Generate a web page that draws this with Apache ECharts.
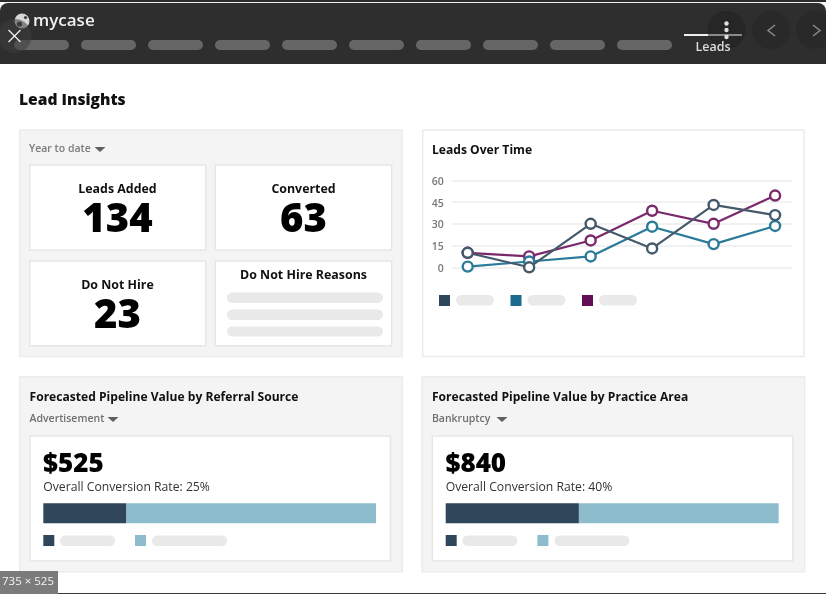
<!DOCTYPE html>
<html>
<head>
<meta charset="utf-8">
<title>Lead Insights</title>
<style>
  html, body { margin: 0; padding: 0; background: #fff; }
  #main { width: 826px; height: 594px; }
</style>
<script src="https://cdn.jsdelivr.net/npm/echarts@6/dist/echarts.min.js"></script>
</head>
<body>
<div id="main"></div>
<script>
// line chart data
var months = [0, 1, 2, 3, 4, 5];
var yTicks = [0, 15, 30, 45, 60];
var seriesA = [10, 0, 30, 13, 43, 36];
var seriesB = [0.5, 4, 7.5, 28, 16, 28.5];
var seriesC = [10, 7.5, 18.5, 39, 30, 49.5];

// stacked bars
var referralConverted = [25];
var referralRest = [75];
var practiceConverted = [40];
var practiceRest = [60];

// the number cards
var cardLabels = ['Leads Added', 'Converted', 'Do Not Hire'];
var cardValues = ['134', '63', '23'];

var FONT = '"Open Sans", "Noto Sans", sans-serif';
var DARK = '#2f465b', TEAL = '#1b6b8c', PURPLE = '#640f55', LIGHT = '#8dbdcc';

function rect(x, y, w, h, fill, stroke, r) {
  return {
    type: 'rect',
    shape: { x: x, y: y, width: w, height: h, r: r || 0 },
    style: { fill: fill, stroke: stroke || null, lineWidth: stroke ? 1.5 : 0 }
  };
}
function pill(x, y, w, h, fill) {
  return rect(x, y, w, h, fill || '#e9e9e9', null, h / 2);
}
function circle(cx, cy, r, fill) {
  return { type: 'circle', shape: { cx: cx, cy: cy, r: r }, style: { fill: fill } };
}
function label(x, y, str, size, weight, color, align) {
  return {
    type: 'text', x: x, y: y + 1.5,
    style: {
      text: str, fill: color || '#111', align: align || 'left', verticalAlign: 'middle',
      font: weight + ' ' + size + 'px ' + FONT
    }
  };
}
function caret(cx, cy) {
  return {
    type: 'polygon',
    shape: { points: [[cx - 5.5, cy - 2.5], [cx + 5.5, cy - 2.5], [cx, cy + 2.5]] },
    style: { fill: '#5f5f5f' }
  };
}
function chevron(points, color) {
  return {
    type: 'polyline',
    shape: { points: points },
    style: { stroke: color, lineWidth: 1.5, fill: null }
  };
}

var g = [];

// header
g.push(rect(0, 0, 826, 2, '#2b2b2b'));
g.push(rect(0, 2, 826, 1, '#f2f2f2'));
g.push(rect(0, 3, 826, 61, '#2e2e2e', null, [8, 8, 0, 0]));
g.push(circle(22, 21, 7.5, '#d6d6d6'));
g.push(circle(19.5, 24, 2.6, '#3a3a3a'));
g.push(circle(25.5, 17.5, 1.6, '#3a3a3a'));
g.push(label(33, 20, 'mycase', 17, 600, '#f0f0f0'));
[14, 81, 148, 215, 282, 349, 416, 483, 550, 617].forEach(function (x) {
  g.push(pill(x, 40, 55, 10, '#666666'));
});
g.push(circle(14.6, 36, 17, 'rgba(62,62,62,0.55)'));
g.push({ type: 'line', shape: { x1: 8.5, y1: 30, x2: 20.5, y2: 42 }, style: { stroke: '#f2f2f2', lineWidth: 1.2 } });
g.push({ type: 'line', shape: { x1: 20.5, y1: 30, x2: 8.5, y2: 42 }, style: { stroke: '#f2f2f2', lineWidth: 1.2 } });
g.push(circle(726.5, 30, 19, '#262626'));
g.push(circle(771, 30, 19, '#292929'));
g.push(circle(815, 30, 19, '#292929'));
g.push(rect(684, 34, 58, 2, '#8a8a8a'));
g.push(rect(684, 34, 24, 2, '#eeeeee'));
g.push(label(713, 45.5, 'Leads', 12.5, 600, '#dcdcdc', 'center'));
g.push(circle(726.5, 23.5, 2.2, '#e0e0e0'));
g.push(circle(726.5, 30, 2.2, '#e0e0e0'));
g.push(circle(726.5, 37, 2.2, '#e0e0e0'));
g.push(chevron([[775, 25], [768, 30.5], [775, 36]], '#8a8a8a'));
g.push(chevron([[813, 25], [820, 30.5], [813, 36]], '#8a8a8a'));

g.push(label(19, 99, 'Lead Insights', 15.6, 800, '#111'));

// top left panel
g.push(rect(19.7, 130, 382.3, 226.5, '#f4f4f4', '#ececec'));
g.push(label(29, 148, 'Year to date', 10.5, 600, '#7a7a7a'));
g.push(caret(100, 149.5));
g.push(rect(29.7, 165, 176, 85, '#fff', '#e6e6e6'));
g.push(rect(215.3, 165, 176.4, 85, '#fff', '#e6e6e6'));
g.push(rect(29.7, 261, 176, 84.7, '#fff', '#e6e6e6'));
g.push(rect(215.3, 261, 176.4, 84.7, '#fff', '#e6e6e6'));
g.push(label(117.5, 188, cardLabels[0], 12.4, 700, '#111', 'center'));
g.push(label(117.5, 219, cardValues[0], 40, 800, '#000', 'center'));
g.push(label(303.5, 188, cardLabels[1], 12.4, 700, '#111', 'center'));
g.push(label(303.5, 219, cardValues[1], 40, 800, '#000', 'center'));
g.push(label(117.5, 284, cardLabels[2], 12.4, 700, '#111', 'center'));
g.push(label(117.5, 315, cardValues[2], 40, 800, '#000', 'center'));
g.push(label(303.5, 274, 'Do Not Hire Reasons', 12.4, 700, '#111', 'center'));
g.push(pill(227, 292.5, 156, 10.5));
g.push(pill(227, 309.5, 156, 10.5));
g.push(pill(227, 326.5, 156, 10));

// top right panel
g.push(rect(422.7, 130, 381.3, 226.5, '#fff', '#ececec'));
g.push(label(432, 149, 'Leads Over Time', 12.1, 700));
g.push(rect(439, 295, 11, 11, DARK));
g.push(pill(456, 295, 38, 10.5));
g.push(rect(510.5, 295, 11, 11, TEAL));
g.push(pill(527.5, 295, 38, 10.5));
g.push(rect(582, 295, 11, 11, PURPLE));
g.push(pill(599, 295, 38, 10.5));

// bottom panels
function pipelinePanel(px, title, dropdown, caretX, amount, rate) {
  var ox = px - 19.7;
  g.push(rect(px, 376.7, 382.6, 195, '#f4f4f4', '#ececec'));
  g.push(label(29.5 + ox, 396.5, title, 12.1, 700));
  g.push(label(29.5 + ox, 418, dropdown, 10.5, 600, '#6f6f6f'));
  g.push(caret(caretX, 419.5));
  g.push(rect(30 + ox, 436, 360.5, 125, '#fff', '#e6e6e6'));
  g.push(label(43 + ox, 463, amount, 26, 800, '#000'));
  g.push(label(43.3 + ox, 486.5, 'Overall Conversion Rate: ' + rate, 12.2, 400, '#333'));
  g.push(rect(43.3 + ox, 535, 11, 11, DARK));
  g.push(pill(60 + ox, 535.5, 55, 10.5));
  g.push(rect(135 + ox, 535, 11, 11, LIGHT));
  g.push(pill(152 + ox, 535.5, 75, 10.5));
}
pipelinePanel(19.7, 'Forecasted Pipeline Value by Referral Source', 'Advertisement', 113, '$525', '25%');
pipelinePanel(422.1, 'Forecasted Pipeline Value by Practice Area', 'Bankruptcy', 502, '$840', '40%');

// image size badge and window edge
g.push(rect(58, 593, 768, 1, '#3a3a3a'));
g.push(rect(0, 571, 58, 23, '#7b7b7b'));
g.push(label(28, 580.5, '735 × 525', 11.5, 400, '#f2f2f2', 'center'));

function pairs(values) {
  return values.map(function (v, i) { return [months[i], v]; });
}
function lineSeries(name, values, color) {
  return {
    name: name,
    type: 'line',
    xAxisIndex: 0,
    yAxisIndex: 0,
    data: pairs(values),
    symbol: 'circle',
    symbolSize: 10,
    showSymbol: true,
    lineStyle: { color: color, width: 2.2 },
    itemStyle: { color: '#fff', borderColor: color, borderWidth: 2.4 },
    silent: true
  };
}
function barSeries(name, values, color, idx) {
  return {
    name: name,
    type: 'bar',
    stack: 'bar' + idx,
    xAxisIndex: idx,
    yAxisIndex: idx,
    data: values,
    barWidth: '100%',
    itemStyle: { color: color },
    silent: true
  };
}
function hiddenValue(idx) {
  return { type: 'value', gridIndex: idx, min: 0, max: 100, show: false };
}
function hiddenCategory(idx) {
  return { type: 'category', gridIndex: idx, data: ['rate'], show: false };
}

var myChart = echarts.init(document.getElementById('main'));
myChart.setOption({
  animation: false,
  backgroundColor: '#fff',
  tooltip: { show: false },
  graphic: { elements: g },
  grid: [
    { left: 451.7, top: 180.3, width: 340, height: 87 },
    { left: 43.3, top: 503.3, width: 332.7, height: 20 },
    { left: 445.7, top: 503.3, width: 333, height: 20 }
  ],
  xAxis: [
    { type: 'value', gridIndex: 0, min: -0.26, max: 5.27, show: false },
    hiddenValue(1),
    hiddenValue(2)
  ],
  yAxis: [
    {
      type: 'value',
      gridIndex: 0,
      min: yTicks[0],
      max: yTicks[yTicks.length - 1],
      interval: yTicks[1] - yTicks[0],
      axisLine: { show: false },
      axisTick: { show: false },
      axisLabel: {
        margin: 8,
        formatter: '{t|{value}}',
        rich: {
          t: { color: '#777', fontSize: 10.5, fontWeight: 600, fontFamily: FONT, padding: [3, 0, 0, 0] }
        }
      },
      splitLine: { lineStyle: { color: '#ececec', width: 1.5 } }
    },
    hiddenCategory(1),
    hiddenCategory(2)
  ],
  series: [
    lineSeries('C', seriesC, '#7a2a6c'),
    lineSeries('B', seriesB, '#2a7a9a'),
    lineSeries('A', seriesA, '#44596a'),
    barSeries('Converted', referralConverted, DARK, 1),
    barSeries('Remaining', referralRest, LIGHT, 1),
    barSeries('Converted', practiceConverted, DARK, 2),
    barSeries('Remaining', practiceRest, LIGHT, 2)
  ]
});
</script>
</body>
</html>
